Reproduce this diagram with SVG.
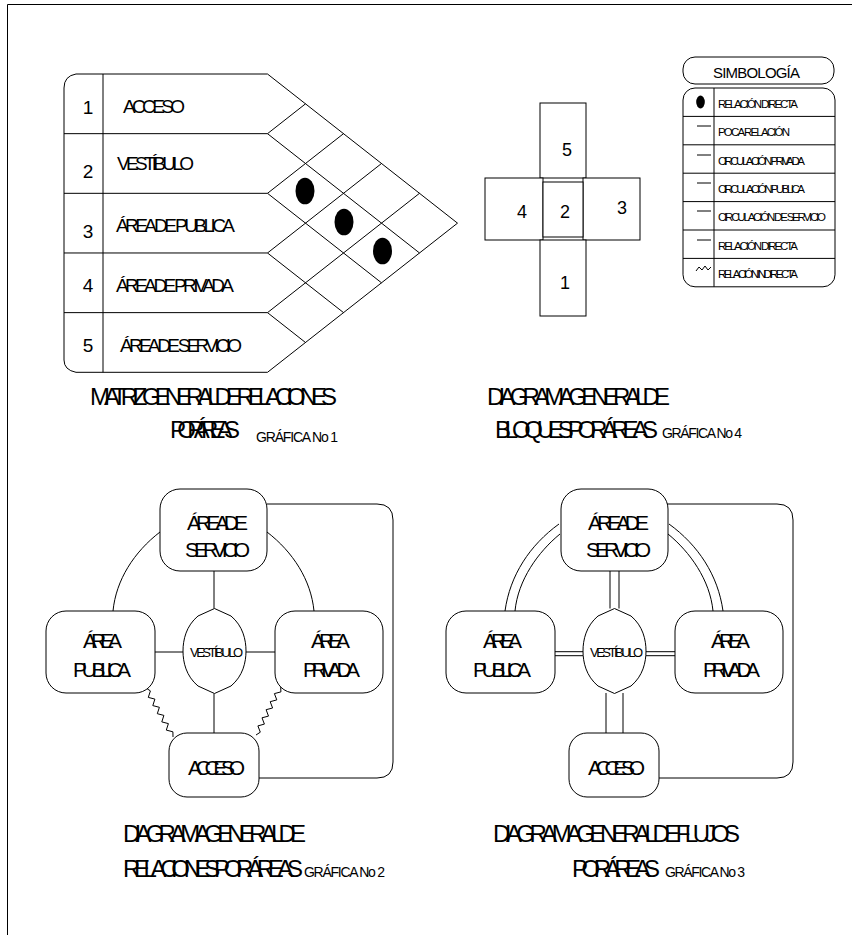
<svg xmlns="http://www.w3.org/2000/svg" width="852" height="935" viewBox="0 0 852 935">
<style>
.ln{fill:none;stroke:#000;stroke-width:1}
.nd{fill:#fff;stroke:#000;stroke-width:1}
.t{font-family:"Liberation Sans",Arial,sans-serif;fill:#000}
.cap{font-size:24px}
.sm{font-size:14px}
.lg{font-size:11.5px}
.nl{font-size:21px}
</style>
<rect width="852" height="935" fill="#fff"/>
<g id="page-border">
<path class="ln" d="M7.5,935 V4.5 H852" stroke-width="1.5"/>
</g>

<g id="matrix">
<path class="ln" d="M267.5,74 H76 Q64,76 64,88 V360 Q64,370 76,372.3 H267.5"/>
<line class="ln" x1="103" y1="74" x2="103" y2="372.3"/>
<path class="ln" d="M64,133.66 H267.5 M64,193.32 H267.5 M64,252.98 H267.5 M64,312.64 H267.5"/>
<path class="ln" d="M267.5,74 L457.5,223.15 M267.5,133.66 L419.5,252.98 M267.5,193.32 L381.5,282.8 M267.5,252.98 L343.5,312.6 M267.5,312.64 L305.5,342.5"/>
<path class="ln" d="M267.5,133.66 L305.5,103.83 M267.5,193.32 L343.5,133.66 M267.5,252.98 L381.5,163.5 M267.5,312.64 L419.5,193.3 M267.5,372.3 L457.5,223.15"/>
<ellipse cx="305" cy="191" rx="9.5" ry="13.3"/>
<ellipse cx="344" cy="222" rx="9.5" ry="13.3"/>
<ellipse cx="382.5" cy="251" rx="9.5" ry="13.3"/>
<g class="t" font-size="19" text-anchor="middle">
<text x="88" y="114">1</text>
<text x="88" y="178">2</text>
<text x="88" y="238">3</text>
<text x="88" y="292">4</text>
<text x="88" y="352">5</text>
</g>
<g class="t" font-size="19">
<text x="123" y="113" textLength="62" lengthAdjust="spacing">ACCESO</text>
<text x="117" y="170" textLength="77" lengthAdjust="spacing">VESTÍBULO</text>
<text x="116" y="232" textLength="119" lengthAdjust="spacing">ÁREA DE PUBLICA</text>
<text x="116" y="292" textLength="118" lengthAdjust="spacing">ÁREA DE PRIVADA</text>
<text x="120" y="352" textLength="122" lengthAdjust="spacing">ÁREA DE SERVICIO</text>
</g>
</g>

<g id="blocks">
<rect class="nd" x="540" y="103" width="46" height="75"/>
<rect class="nd" x="485" y="178" width="58" height="62"/>
<rect class="nd" x="583" y="178" width="57" height="62"/>
<rect class="nd" x="540" y="240" width="46" height="76"/>
<rect class="nd" x="543" y="182" width="40" height="55"/>
<g class="t" font-size="18" text-anchor="middle">
<text x="567" y="156">5</text>
<text x="522" y="218">4</text>
<text x="565" y="218">2</text>
<text x="622" y="214">3</text>
<text x="565" y="289">1</text>
</g>
</g>

<g id="legend">
<rect class="ln" x="683" y="57" width="151" height="27" rx="12"/>
<text class="t" x="713" y="78" font-size="15" textLength="87" lengthAdjust="spacing">SIMBOLOGÍA</text>
<rect class="ln" x="683" y="88" width="152" height="198.8" rx="12"/>
<line class="ln" x1="714" y1="88" x2="714" y2="286.8"/>
<path class="ln" d="M683,116.4 H835 M683,144.8 H835 M683,173.2 H835 M683,201.6 H835 M683,230 H835 M683,258.4 H835"/>
<ellipse cx="700.5" cy="102" rx="4.3" ry="6.5"/>
<path class="ln" d="M697,126 H711"/>
<path class="ln" d="M697,155 H711"/>
<path class="ln" d="M697,183 H711"/>
<path class="ln" d="M697,211 H711"/>
<path class="ln" d="M697,240 H711" stroke-width="1.5"/>
<path class="ln" d="M696,271 L699,267 L702,270 L705,266 L708,270 L711,267"/>
<g class="t lg">
<text x="718" y="108" textLength="80" lengthAdjust="spacing">RELACIÓN DIRECTA</text>
<text x="718" y="136" textLength="72" lengthAdjust="spacing">POCA RELACIÓN</text>
<text x="718" y="165" textLength="87" lengthAdjust="spacing">CIRCULACIÓN PRIVADA</text>
<text x="718" y="193" textLength="87" lengthAdjust="spacing">CIRCULACIÓN PUBLICA</text>
<text x="718" y="221" textLength="108" lengthAdjust="spacing">CIRCULACIÓN DE SERVICIO</text>
<text x="718" y="250" textLength="80" lengthAdjust="spacing">RELACIÓN DIRECTA</text>
<text x="718" y="278" textLength="80" lengthAdjust="spacing">RELACIÓN INDIRECTA</text>
</g>
</g>

<g id="captions" class="t">
<text class="cap" x="90" y="405" textLength="247" lengthAdjust="spacing">MATRIZ GENERAL DE RELACIONES</text>
<text class="cap" x="170" y="438" textLength="70" lengthAdjust="spacing">POR ÁREAS</text>
<text class="sm" x="256" y="442" textLength="82" lengthAdjust="spacing">GRÁFICA No 1</text>
<text class="cap" x="487" y="405" textLength="183" lengthAdjust="spacing">DIAGRAMA GENERAL DE</text>
<text class="cap" x="495" y="438" textLength="163" lengthAdjust="spacing">BLOQUES POR ÁREAS</text>
<text class="sm" x="662" y="438" textLength="80" lengthAdjust="spacing">GRÁFICA No 4</text>
<text class="cap" x="123" y="842" textLength="183" lengthAdjust="spacing">DIAGRAMA GENERAL DE</text>
<text class="cap" x="123" y="877" textLength="180" lengthAdjust="spacing">RELACIONES POR ÁREAS</text>
<text class="sm" x="304" y="877" textLength="81" lengthAdjust="spacing">GRÁFICA No 2</text>
<text class="cap" x="493" y="842" textLength="247" lengthAdjust="spacing">DIAGRAMA GENERAL DE FLUJOS</text>
<text class="cap" x="572" y="877" textLength="88" lengthAdjust="spacing">POR ÁREAS</text>
<text class="sm" x="665" y="877" textLength="80" lengthAdjust="spacing">GRÁFICA No 3</text>
</g>

<g id="connectors-rel">
<path class="ln" d="M214,571 V608.5 M214,693.5 V733 M155,652 H183 M246,652 H275"/>
<path class="ln" d="M160,532 C134,552 116,580 113,611"/>
<path class="ln" d="M267,532 C293,552 311,580 314,611"/>
<polyline class="ln" points="146,688 150.4,690.9 148.3,697.4 154.9,699.1 152.8,705.6 159.4,707.3 157.3,713.7 163.9,715.4 161.8,721.9 168.4,723.6 166.3,730.1 172.9,731.8 173,737"/>
<polyline class="ln" points="280.7,686.7 280.9,691.9 274.4,693.6 276.8,699.9 270.2,701.7 272.6,708 266.1,709.7 268.5,716.1 262,717.8 264.4,724.1 257.9,725.9 260.3,732.2 256,735"/>
<path class="ln" d="M267,504 H377 Q393,504 393,520 V762 Q393,778 377,778 H258"/>
</g>
<g id="rel-servicio">
<rect class="nd" x="160" y="489" width="107" height="82" rx="20"/>
<text class="t nl" x="187" y="530" textLength="61" lengthAdjust="spacing">ÁREA DE</text>
<text class="t nl" x="185" y="557" textLength="65" lengthAdjust="spacing">SERVICIO</text>
</g>
<g id="rel-publica">
<rect class="nd" x="46" y="611" width="109" height="82" rx="20"/>
<text class="t nl" x="83" y="648" textLength="39" lengthAdjust="spacing">ÁREA</text>
<text class="t nl" x="73" y="677" textLength="58" lengthAdjust="spacing">PUBLICA</text>
</g>
<g id="rel-privada">
<rect class="nd" x="275" y="611" width="108" height="82" rx="20"/>
<text class="t nl" x="311" y="648" textLength="39" lengthAdjust="spacing">ÁREA</text>
<text class="t nl" x="303" y="677" textLength="57" lengthAdjust="spacing">PRIVADA</text>
</g>
<g id="rel-vestibulo">
<path class="nd" d="M214.5,608.5 L231,616 C243,626 246,640 246,651 C246,662 243,676 231,686 L214.5,693.5 L198,686 C186,676 183,662 183,651 C183,640 186,626 198,616 Z"/>
<text class="t" x="190" y="657" font-size="13" textLength="53" lengthAdjust="spacing">VESTÍBULO</text>
</g>
<g id="rel-acceso">
<rect class="nd" x="169" y="733" width="90" height="64" rx="18"/>
<text class="t nl" x="188" y="775" textLength="57" lengthAdjust="spacing">ACCESO</text>
</g>

<g id="connectors-flow">
<path class="ln" d="M610,571 V608.5 M619,571 V608.5 M606,693 V733 M623,693 V733 M555,651.7 H583 M555,655.7 H583 M646,651.7 H675 M646,655.7 H675"/>
<path class="ln" d="M559,524 C530,545 510,575 505,611 M560,534 C538,552 518,580 515,611"/>
<path class="ln" d="M669,524 C698,545 718,575 723,611 M668,534 C690,552 710,580 713,611"/>
<path class="ln" d="M667,504 H777 Q793,504 793,520 V762 Q793,778 777,778 H658"/>
</g>
<g id="flow-servicio">
<rect class="nd" x="561" y="489" width="107" height="82" rx="20"/>
<text class="t nl" x="588" y="530" textLength="61" lengthAdjust="spacing">ÁREA DE</text>
<text class="t nl" x="586" y="557" textLength="65" lengthAdjust="spacing">SERVICIO</text>
</g>
<g id="flow-publica">
<rect class="nd" x="446" y="611" width="109" height="82" rx="20"/>
<text class="t nl" x="483" y="648" textLength="39" lengthAdjust="spacing">ÁREA</text>
<text class="t nl" x="473" y="677" textLength="58" lengthAdjust="spacing">PUBLICA</text>
</g>
<g id="flow-privada">
<rect class="nd" x="675" y="611" width="108" height="82" rx="20"/>
<text class="t nl" x="711" y="648" textLength="39" lengthAdjust="spacing">ÁREA</text>
<text class="t nl" x="703" y="677" textLength="57" lengthAdjust="spacing">PRIVADA</text>
</g>
<g id="flow-vestibulo">
<path class="nd" d="M614.5,608.5 L631,616 C643,626 646,640 646,651 C646,662 643,676 631,686 L614.5,693.5 L598,686 C586,676 583,662 583,651 C583,640 586,626 598,616 Z"/>
<text class="t" x="590" y="657" font-size="13" textLength="53" lengthAdjust="spacing">VESTÍBULO</text>
</g>
<g id="flow-acceso">
<rect class="nd" x="569" y="733" width="90" height="64" rx="18"/>
<text class="t nl" x="588" y="775" textLength="57" lengthAdjust="spacing">ACCESO</text>
</g>
</svg>
